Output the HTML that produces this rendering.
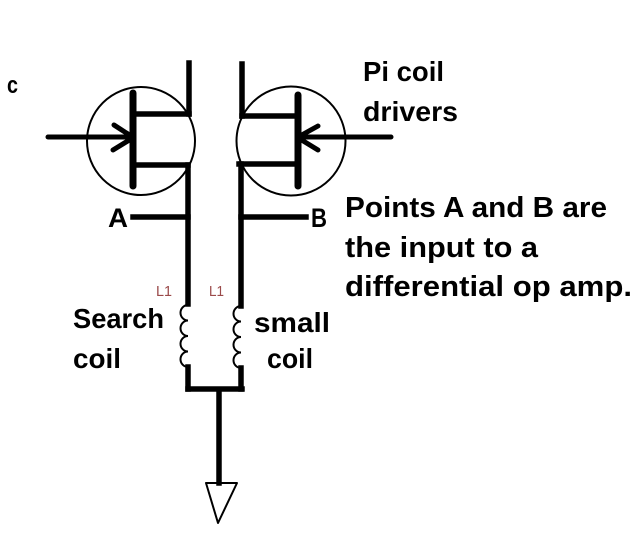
<!DOCTYPE html>
<html>
<head>
<meta charset="utf-8">
<style>
  html, body { margin: 0; padding: 0; background: #ffffff; }
  body { width: 642px; height: 534px; overflow: hidden; }
  svg { display: block; }
  .t { font-family: "Liberation Sans", Arial, sans-serif; font-weight: bold; fill: #000; }
</style>
</head>
<body>
<svg width="642" height="534" viewBox="0 0 642 534" xmlns="http://www.w3.org/2000/svg">
  <rect width="642" height="534" fill="#ffffff"/>

  <!-- Left transistor -->
  <circle cx="141" cy="141" r="54" fill="none" stroke="#000" stroke-width="2"/>
  <g stroke="#000" stroke-linecap="round" fill="none">
    <line x1="133" y1="93" x2="133" y2="186" stroke-width="7"/>
    <line x1="48" y1="137" x2="133" y2="137" stroke-width="5"/>
    <line x1="114" y1="125" x2="131" y2="136" stroke-width="5"/>
    <line x1="113" y1="150" x2="131" y2="139" stroke-width="5"/>
  </g>
  <g stroke="#000" stroke-width="5.5" fill="none" stroke-linecap="square">
    <line x1="133" y1="114" x2="189" y2="114"/>
    <line x1="189" y1="63" x2="189" y2="114"/>
    <line x1="133" y1="165" x2="188" y2="165"/>
    <line x1="188" y1="165" x2="188" y2="304"/>
    <line x1="133" y1="217" x2="188" y2="217"/>
  </g>

  <!-- Right transistor -->
  <circle cx="291" cy="141" r="54.5" fill="none" stroke="#000" stroke-width="2"/>
  <g stroke="#000" stroke-linecap="round" fill="none">
    <line x1="298" y1="95" x2="298" y2="186" stroke-width="7"/>
    <line x1="298" y1="137" x2="391" y2="137" stroke-width="5"/>
    <line x1="318" y1="126" x2="300" y2="136" stroke-width="5"/>
    <line x1="318" y1="150" x2="300" y2="139" stroke-width="5"/>
  </g>
  <g stroke="#000" stroke-width="5.5" fill="none" stroke-linecap="square">
    <line x1="242" y1="64" x2="242" y2="116"/>
    <line x1="242" y1="116" x2="298" y2="116"/>
    <line x1="239" y1="164" x2="298" y2="164"/>
    <line x1="241" y1="164" x2="241" y2="306"/>
    <line x1="241" y1="217" x2="306" y2="217"/>
  </g>

  <!-- Coils -->
  <path d="M188,305 a7.5,7.75 0 0 0 0,15.5 a7.5,7.75 0 0 0 0,15.5 a7.5,7.75 0 0 0 0,15.5 a7.5,7.75 0 0 0 0,15.5"
        fill="none" stroke="#000" stroke-width="2"/>
  <path d="M241,306 a7.5,7.75 0 0 0 0,15.5 a7.5,7.75 0 0 0 0,15.5 a7.5,7.75 0 0 0 0,15.5 a7.5,7.75 0 0 0 0,15.5"
        fill="none" stroke="#000" stroke-width="2"/>

  <!-- Bottom connections -->
  <g stroke="#000" stroke-width="5.5" fill="none" stroke-linecap="square">
    <line x1="188" y1="367" x2="188" y2="389"/>
    <line x1="241" y1="368" x2="241" y2="389"/>
    <line x1="188" y1="389" x2="242" y2="389"/>
    <line x1="219" y1="390" x2="219" y2="483"/>
  </g>
  <polygon points="206,483 237,483 218,523" fill="none" stroke="#000" stroke-width="2" stroke-linejoin="round"/>

  <!-- Labels -->
  <text class="t" x="7" y="93" font-size="24" textLength="11" lengthAdjust="spacingAndGlyphs">c</text>
  <text class="t" x="108" y="227" font-size="27" textLength="20" lengthAdjust="spacingAndGlyphs">A</text>
  <text class="t" x="311" y="227" font-size="27" textLength="16" lengthAdjust="spacingAndGlyphs">B</text>

  <text class="t" x="363" y="81" font-size="28" textLength="81" lengthAdjust="spacingAndGlyphs">Pi coil</text>
  <text class="t" x="363" y="121" font-size="28" textLength="95" lengthAdjust="spacingAndGlyphs">drivers</text>

  <text class="t" x="345" y="217" font-size="28.5" textLength="262" lengthAdjust="spacingAndGlyphs">Points A and B are</text>
  <text class="t" x="345" y="257" font-size="28.5" textLength="193" lengthAdjust="spacingAndGlyphs">the input to a</text>
  <text class="t" x="345" y="296" font-size="28.5" textLength="287" lengthAdjust="spacingAndGlyphs">differential op amp.</text>

  <text class="t" x="73" y="328" font-size="28" textLength="91" lengthAdjust="spacingAndGlyphs">Search</text>
  <text class="t" x="73" y="368" font-size="28" textLength="48" lengthAdjust="spacingAndGlyphs">coil</text>
  <text class="t" x="254" y="332" font-size="28" textLength="76" lengthAdjust="spacingAndGlyphs">small</text>
  <text class="t" x="267" y="368" font-size="28" textLength="46" lengthAdjust="spacingAndGlyphs">coil</text>

  <text x="156" y="296" font-family="Liberation Sans, Arial, sans-serif" font-size="15" fill="#9b4a4a" textLength="16" lengthAdjust="spacingAndGlyphs">L1</text>
  <text x="209" y="296" font-family="Liberation Sans, Arial, sans-serif" font-size="15" fill="#9b4a4a" textLength="15" lengthAdjust="spacingAndGlyphs">L1</text>
</svg>
</body>
</html>
